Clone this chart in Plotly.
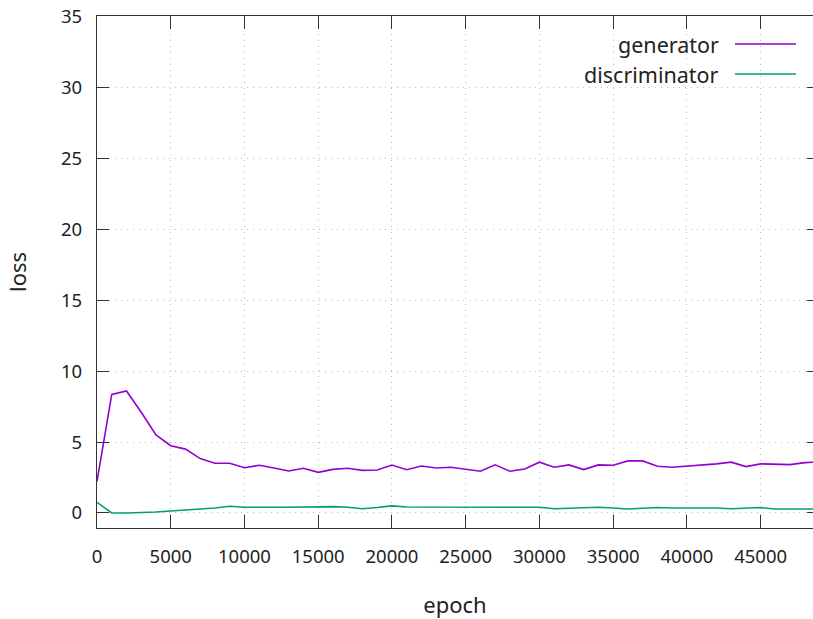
import plotly.graph_objects as go

epochs = list(range(0, 50000, 1000))
generator = [2.23, 8.36, 8.6, 7.1, 5.5, 4.74, 4.5, 3.83, 3.5, 3.5,
             3.19, 3.36, 3.17, 2.96, 3.15, 2.86, 3.07, 3.15, 3.0, 3.03,
             3.38, 3.05, 3.31, 3.17, 3.22, 3.06, 2.94, 3.39, 2.94, 3.1,
             3.58, 3.22, 3.39, 3.06, 3.39, 3.36, 3.67, 3.67, 3.29, 3.22,
             3.29, 3.41, 3.46, 3.58, 3.27, 3.46, 3.44, 3.41, 3.55, 3.6]
discriminator = [0.75, 0.0, 0.0, 0.02, 0.07, 0.14, 0.19, 0.28, 0.35, 0.47,
                 0.4, 0.42, 0.4, 0.4, 0.42, 0.45, 0.45, 0.4, 0.3, 0.38,
                 0.5, 0.42, 0.42, 0.42, 0.45, 0.45, 0.42, 0.42, 0.45, 0.45,
                 0.4, 0.3, 0.35, 0.38, 0.4, 0.35, 0.28, 0.33, 0.38, 0.35,
                 0.35, 0.38, 0.35, 0.3, 0.33, 0.38, 0.28, 0.28, 0.28, 0.28]
series_names = ["generator", "discriminator"]
series_colors = ["#9400d3", "#009e73"]
x_ticks = list(range(0, 50000, 5000))
x_ticktext = [str(v) for v in x_ticks]
y_ticks = list(range(0, 36, 5))

FONT = "Noto Sans"
fig = go.Figure()
for name, vals, col in zip(series_names, [generator, discriminator], series_colors):
    fig.add_trace(go.Scatter(x=epochs, y=vals, mode="lines", name=name,
                             line=dict(color=col, width=1.6), showlegend=False))
# invisible trace for right mirrored ticks
fig.add_trace(go.Scatter(x=[epochs[0]], y=[generator[0]], yaxis="y2",
                         mode="lines", showlegend=False, hoverinfo="skip",
                         line=dict(color="rgba(0,0,0,0)")))

grid = dict(showgrid=True, gridcolor="#bdbdbd", griddash="1px,5px", gridwidth=1)
fig.update_layout(
    width=813, height=619,
    margin=dict(l=97, r=0, t=16, b=91),
    paper_bgcolor="white", plot_bgcolor="white",
    font=dict(family=FONT, size=18, color="#222222"),
    xaxis=dict(range=[0, 48550], tickvals=x_ticks, ticktext=x_ticktext,
               ticks="inside", ticklen=13,
               tickcolor="#333333", showline=True, linecolor="#333333", linewidth=1.2,
               mirror="ticks", zeroline=False, ticklabelstandoff=12,
               tickfont=dict(size=18.5),
               title=dict(text="epoch", standoff=30), **grid),
    yaxis=dict(range=[-1.06, 35.03], tickvals=y_ticks, ticks="inside", ticklen=12,
               tickcolor="#333333", showline=True, linecolor="#333333", linewidth=1.2,
               mirror=False, zeroline=False, ticklabelstandoff=10,
               tickfont=dict(size=18.5),
               title=dict(text="loss", standoff=28), **grid),
    yaxis2=dict(range=[-1.06, 35.03], tickvals=y_ticks, overlaying="y", side="right",
                ticks="inside", ticklen=6, tickcolor="#333333", showline=False,
                showgrid=False, zeroline=False, showticklabels=False),
)
# legend (gnuplot style: text left of sample)
leg_y = [44, 74]
for name, col, py in zip(series_names, series_colors, leg_y):
    yp = 1 - (py - 16) / 512
    fig.add_annotation(x=(721 - 97) / 716, y=yp, xref="paper", yref="paper",
                       text=name, showarrow=False, xanchor="right", yanchor="middle",
                       font=dict(family=FONT, size=21.5, color="#222222"))
    fig.add_shape(type="line", xref="paper", yref="paper",
                  x0=(735 - 97) / 716, x1=(796 - 97) / 716, y0=yp, y1=yp,
                  line=dict(color=col, width=1.5))
fig.write_html("out.html")
